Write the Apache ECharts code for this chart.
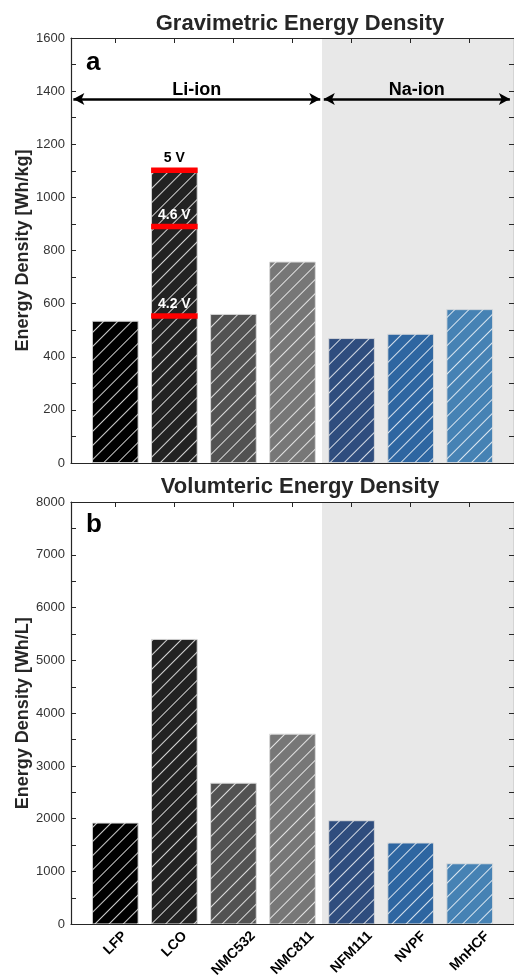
<!DOCTYPE html>
<html>
<head>
<meta charset="utf-8">
<script src="https://cdn.jsdelivr.net/npm/echarts@6/dist/echarts.min.js"></script>
<style>
    * { margin: 0; padding: 0; }
    html, body { background: #fff; }
</style>
</head>
<body>
<div id="chart" style="width: 514px;height: 980px;"></div>
<script>
    var categories = ['LFP', 'LCO', 'NMC532', 'NMC811', 'NFM111', 'NVPF', 'MnHCF']
    var gravimetric = [535, 1110, 561, 758, 470, 486, 579]
    var volumetric = [1925, 5405, 2680, 3610, 1970, 1548, 1155]
    var barColors = ['#000000', '#222222', '#525252', '#777777', '#2f4d7e', '#2e66a1', '#4682b4']
    var voltageLabels = ['5 V', '4.6 V', '4.2 V']
    var voltageValues = [1102, 890, 553]
    var voltageTextColors = ['#000', '#fff', '#fff']
    var groups = ['Li-ion', 'Na-ion']

    var positions = categories.map(function (c, i) { return i + 1 })
    var font = 'Liberation Sans, Arial, sans-serif'
    var axisColor = '#262626'

    // white diagonal hatch on every bar
    var hatch = {
        symbol: 'rect',
        symbolSize: 1,
        dashArrayX: [1, 0],
        dashArrayY: [1, 9],
        rotation: -Math.PI / 4,
        color: 'rgba(255,255,255,0.8)'
    }

    // rotated tick labels hang centred under their tick (top edge fixed),
    // so push each one down a bit according to its length
    var labelMargin = 12
    var measure = document.createElement('canvas').getContext('2d')
    measure.font = 'bold 14px ' + font
    var labelRich = {}
    categories.forEach(function (c, i) {
        var w = measure.measureText(c).width
        var d = 932 + (w + 10) * 0.354 - (926 + labelMargin)
        var p = Math.max(0, 1.414 * d)
        labelRich['c' + i] = { padding: [p, p, 0, 0], fontFamily: font, fontWeight: 'bold', fontSize: 14, color: '#000' }
    })

    function barData(values) {
        return values.map(function (v, i) {
            return { value: [positions[i], v], itemStyle: { color: barColors[i] } }
        })
    }

    function xAxes(grid, showLabels) {
        return [{
            type: 'value', gridIndex: grid, min: 0.25, max: 7.75, z: 10,
            axisLine: { onZero: false, lineStyle: { color: axisColor, width: 1.2 } },
            axisTick: { show: false },
            axisLabel: {
                show: showLabels, customValues: positions, rotate: 45, margin: labelMargin,
                align: 'center', verticalAlign: 'middle', rich: labelRich,
                formatter: function (v) {
                    var i = Math.round(v) - 1
                    return '{c' + i + '|' + categories[i] + '}'
                }
            },
            splitLine: { show: false }
        }, {
            type: 'value', gridIndex: grid, position: 'top', min: 0.25, max: 7.75, z: 10,
            axisLine: { onZero: false, lineStyle: { color: axisColor, width: 1.2 } },
            axisTick: { show: true, inside: true, length: 5, customValues: positions, lineStyle: { color: axisColor } },
            axisLabel: { show: false },
            splitLine: { show: false }
        }]
    }

    function yAxes(grid, max, step, name) {
        return [{
            type: 'value', gridIndex: grid, min: 0, max: max, interval: step / 2, z: 10,
            name: name, nameLocation: 'middle', nameGap: 39, nameMoveOverlap: false,
            nameTextStyle: { fontFamily: font, fontWeight: 'bold', fontSize: 18, color: axisColor },
            axisLine: { show: true, onZero: false, lineStyle: { color: axisColor, width: 1.2 } },
            axisTick: { show: true, inside: true, length: 5, lineStyle: { color: axisColor } },
            axisLabel: {
                fontFamily: font, fontSize: 13, color: '#333', margin: 6,
                formatter: function (v) { return v % step === 0 ? v : '' }
            },
            splitLine: { show: false }
        }, {
            type: 'value', gridIndex: grid, position: 'right', min: 0, max: max, interval: step / 2, z: 10,
            axisLine: { show: true, onZero: false, lineStyle: { color: axisColor, width: 1.2 } },
            axisTick: { show: true, inside: true, length: 5, lineStyle: { color: axisColor } },
            axisLabel: { show: false },
            splitLine: { show: false }
        }]
    }

    var naArea = {
        silent: true,
        itemStyle: { color: '#e8e8e8' },
        data: [[{ xAxis: 4.5 }, { xAxis: 7.75 }]]
    }

    var chart = echarts.init(document.getElementById('chart'))
    chart.setOption({
        animation: false,
        title: [
            { text: 'Gravimetric Energy Density', left: 295, top: 8, textAlign: 'center',
              textStyle: { fontFamily: font, fontWeight: 'bold', fontSize: 22, color: axisColor } },
            { text: 'Volumteric Energy Density', left: 295, top: 471, textAlign: 'center',
              textStyle: { fontFamily: font, fontWeight: 'bold', fontSize: 22, color: axisColor } }
        ],
        grid: [
            { left: 71, top: 38, width: 448, height: 425 },
            { left: 71, top: 502, width: 448, height: 424 }
        ],
        xAxis: xAxes(0, false).concat(xAxes(1, true)),
        yAxis: yAxes(0, 1600, 200, 'Energy Density [Wh/kg]').concat(yAxes(1, 8000, 1000, 'Energy Density [Wh/L]')),
        graphic: [
            { type: 'text', left: 86, top: 50, style: { text: 'a', font: 'bold 26px ' + font, fill: '#000' } },
            { type: 'text', left: 86, top: 512, style: { text: 'b', font: 'bold 26px ' + font, fill: '#000' } }
        ],
        series: [
            {
                type: 'bar', xAxisIndex: 0, yAxisIndex: 0, barWidth: 46.5,
                data: barData(gravimetric),
                itemStyle: { decal: hatch, borderColor: 'rgba(220,220,220,0.7)', borderWidth: 0.8 },
                markArea: naArea,
                markLine: {
                    silent: true, symbol: ['arrow', 'arrow'], symbolSize: [9, 11],
                    lineStyle: { type: 'solid', color: '#000', width: 2.5 },
                    label: { show: true, position: 'insideMiddleTop', distance: 0, fontFamily: font, fontWeight: 'bold', fontSize: 18, color: '#000',
                        formatter: function (p) { return p.name } },
                    data: [
                        [{ name: groups[0], coord: [0.29, 1370] }, { coord: [4.47, 1370] }],
                        [{ name: groups[1], coord: [4.53, 1370] }, { coord: [7.68, 1370] }]
                    ]
                }
            },
            {
                type: 'scatter', xAxisIndex: 0, yAxisIndex: 0, symbol: 'rect', symbolSize: [46.5, 5.5], z: 5,
                itemStyle: { color: '#ff0000', opacity: 1 },
                label: { show: true, position: 'top', distance: 2, fontFamily: font, fontWeight: 'bold', fontSize: 14 },
                data: voltageValues.map(function (v, i) {
                    return { value: [2, v], name: voltageLabels[i], label: { color: voltageTextColors[i], formatter: voltageLabels[i] } }
                })
            },
            {
                type: 'bar', xAxisIndex: 2, yAxisIndex: 2, barWidth: 46.5,
                data: barData(volumetric),
                itemStyle: { decal: hatch, borderColor: 'rgba(220,220,220,0.7)', borderWidth: 0.8 },
                markArea: naArea
            }
        ]
    })
</script>
</body>
</html>
